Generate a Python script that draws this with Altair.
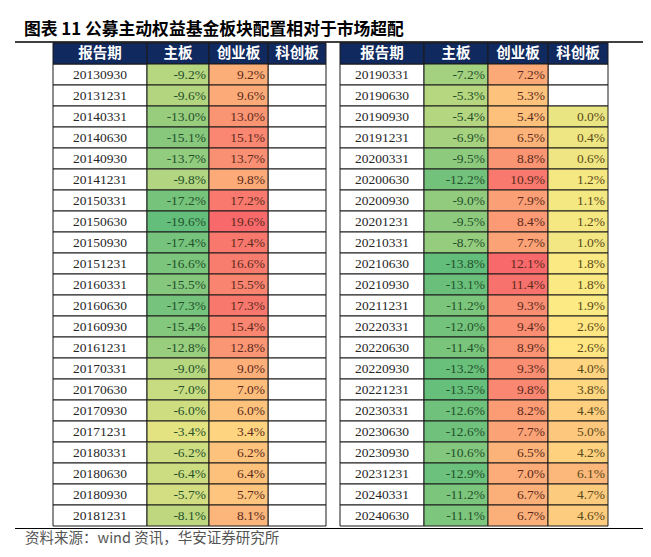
import altair as alt
import pandas as pd
import numpy as np

TITLE = "图表 11 公募主动权益基金板块配置相对于市场超配"
SOURCE = "资料来源：wind 资讯，华安证券研究所"
HEADERS = ["报告期", "主板", "创业板", "科创板"]

left_dates = ["20130930", "20131231", "20140331", "20140630", "20140930", "20141231",
              "20150331", "20150630", "20150930", "20151231", "20160331", "20160630",
              "20160930", "20161231", "20170331", "20170630", "20170930", "20171231",
              "20180331", "20180630", "20180930", "20181231"]
left_main = [-9.2, -9.6, -13.0, -15.1, -13.7, -9.8, -17.2, -19.6, -17.4, -16.6, -15.5,
             -17.3, -15.4, -12.8, -9.0, -7.0, -6.0, -3.4, -6.2, -6.4, -5.7, -8.1]
left_gem = [9.2, 9.6, 13.0, 15.1, 13.7, 9.8, 17.2, 19.6, 17.4, 16.6, 15.5,
            17.3, 15.4, 12.8, 9.0, 7.0, 6.0, 3.4, 6.2, 6.4, 5.7, 8.1]
left_star = [None] * 22

right_dates = ["20190331", "20190630", "20190930", "20191231", "20200331", "20200630",
               "20200930", "20201231", "20210331", "20210630", "20210930", "20211231",
               "20220331", "20220630", "20220930", "20221231", "20230331", "20230630",
               "20230930", "20231231", "20240331", "20240630"]
right_main = [-7.2, -5.3, -5.4, -6.9, -9.5, -12.2, -9.0, -9.5, -8.7, -13.8, -13.1,
              -11.2, -12.0, -11.4, -13.2, -13.5, -12.6, -12.6, -10.6, -12.9, -11.2, -11.1]
right_gem = [7.2, 5.3, 5.4, 6.5, 8.8, 10.9, 7.9, 8.4, 7.7, 12.1, 11.4,
             9.3, 9.4, 8.9, 9.3, 9.8, 8.2, 7.7, 6.5, 7.0, 6.7, 6.7]
right_star = [None, None, 0.0, 0.4, 0.6, 1.2, 1.1, 1.2, 1.0, 1.8, 1.8,
              1.9, 2.6, 2.6, 4.0, 3.8, 4.4, 5.0, 4.2, 6.1, 4.7, 4.6]

# ---- layout / style (chart pixel units) ----
W, H = 635, 541
LEFT_EDGES = [45, 139, 201, 260, 318]
RIGHT_EDGES = [332, 416, 480, 540, 600]
ROW_RANGE = [35, 518]
NAVY = "#10295e"
GREEN, YELLOW, RED = "#63BE7B", "#FFEB84", "#F8696B"
BORDER = "#1a1a1a"
SERIF = "Liberation Serif"
CJK = "Noto Sans CJK SC"


def build(side, dates, main, gem, star, edges):
    recs = []
    for j, h in enumerate(HEADERS):
        recs.append(dict(side=side, row=0, col=j, kind="header", x0=edges[j], x1=edges[j + 1],
                         xc=(edges[j] + edges[j + 1]) / 2, label=h, v=None))
    for i, d in enumerate(dates):
        r = i + 1
        recs.append(dict(side=side, row=r, col=0, kind="date", x0=edges[0], x1=edges[1],
                         xc=(edges[0] + edges[1]) / 2, label=d, v=None))
        for j, arr in enumerate([main, gem, star], start=1):
            v = arr[i]
            recs.append(dict(side=side, row=r, col=j, kind="num" if v is not None else "empty",
                             x0=edges[j], x1=edges[j + 1], xc=(edges[j] + edges[j + 1]) / 2,
                             label=f"{v:.1f}%" if v is not None else "", v=v))
    return recs


df = pd.DataFrame(build("L", left_dates, left_main, left_gem, left_star, LEFT_EDGES)
                  + build("R", right_dates, right_main, right_gem, right_star, RIGHT_EDGES))

lvals = np.array(left_main + left_gem, dtype=float)
rvals = np.array([v for v in right_main + right_gem + right_star if v is not None], dtype=float)

xs = alt.Scale(domain=[0, W], nice=False, zero=False)
ys = alt.Scale(range=ROW_RANGE, paddingInner=0, paddingOuter=0)
X0 = alt.X("x0:Q", scale=xs, axis=None)
X2 = alt.X2("x1:Q")
Y = alt.Y("row:O", scale=ys, axis=None)

base = alt.Chart(df)

white_cells = base.transform_filter("datum.kind == 'date' || datum.kind == 'empty'").mark_rect(
    fill="white", stroke=BORDER, strokeWidth=1).encode(x=X0, x2=X2, y=Y)

header_cells = base.transform_filter("datum.kind == 'header'").mark_rect(
    fill=NAVY, stroke=BORDER, strokeWidth=1).encode(x=X0, x2=X2, y=Y)

left_cells = base.transform_filter("datum.kind == 'num' && datum.side == 'L'").mark_rect(
    stroke=BORDER, strokeWidth=1).encode(
    x=X0, x2=X2, y=Y,
    fill=alt.Fill("v:Q", legend=None,
                  scale=alt.Scale(domain=[lvals.min(), float(np.median(lvals)), lvals.max()],
                                  range=[GREEN, YELLOW, RED], interpolate="rgb")))

right_cells = base.transform_filter("datum.kind == 'num' && datum.side == 'R'").mark_rect(
    stroke=BORDER, strokeWidth=1).encode(
    x=X0, x2=X2, y=Y,
    fill=alt.Fill("v:Q", legend=None,
                  scale=alt.Scale(domain=[rvals.min(), float(np.median(rvals)), rvals.max()],
                                  range=[GREEN, YELLOW, RED], interpolate="rgb")))

header_text = base.transform_filter("datum.kind == 'header'").mark_text(
    font=CJK, fontSize=14.5, fontWeight="bold", color="white", align="center", baseline="middle").encode(
    x=alt.X("xc:Q", scale=xs, axis=None), y=Y, text="label:N")

date_text = base.transform_filter("datum.kind == 'date'").mark_text(
    font=SERIF, fontSize=13.5, color="#262626", align="center", baseline="middle").encode(
    x=alt.X("xc:Q", scale=xs, axis=None), y=Y, text="label:N")

num_text = base.transform_filter("datum.kind == 'num'").mark_text(
    font=SERIF, fontSize=13.5, align="right", baseline="middle", dx=-3).encode(
    x=alt.X("x1:Q", scale=xs, axis=None), y=Y, text="label:N",
    color=alt.Color("col:N", legend=None,
                    scale=alt.Scale(domain=[1, 2, 3], range=["#24502a", "#5b2a1c", "#5a4818"])))

one = pd.DataFrame({"t": [TITLE], "s": [SOURCE]})
title = alt.Chart(one).mark_text(font=CJK, fontSize=16.8, fontWeight="bold", color="black",
                                 align="left", baseline="middle").encode(
    x=alt.value(16), y=alt.value(22), text="t:N")
source = alt.Chart(one).mark_text(font=CJK, fontSize=14.5, color="#555555",
                                  align="left", baseline="middle").encode(
    x=alt.value(17), y=alt.value(531), text="s:N")
top_rule = alt.Chart(one).mark_rule(color="black", strokeWidth=1.5).encode(
    x=alt.value(7), x2=alt.value(635), y=alt.value(34))
bottom_rule = alt.Chart(one).mark_rule(color="black", strokeWidth=1.2).encode(
    x=alt.value(7), x2=alt.value(635), y=alt.value(520.5))

chart = alt.layer(
    white_cells, header_cells, left_cells, right_cells,
    header_text, date_text, num_text,
    title, source, top_rule, bottom_rule,
).resolve_scale(color="independent", fill="independent").properties(
    width=W, height=H, autosize=alt.AutoSizeParams(type="none"), padding=0
).configure_view(strokeWidth=0)

chart.save("out.html", embed_options={"renderer": "svg", "actions": False})
